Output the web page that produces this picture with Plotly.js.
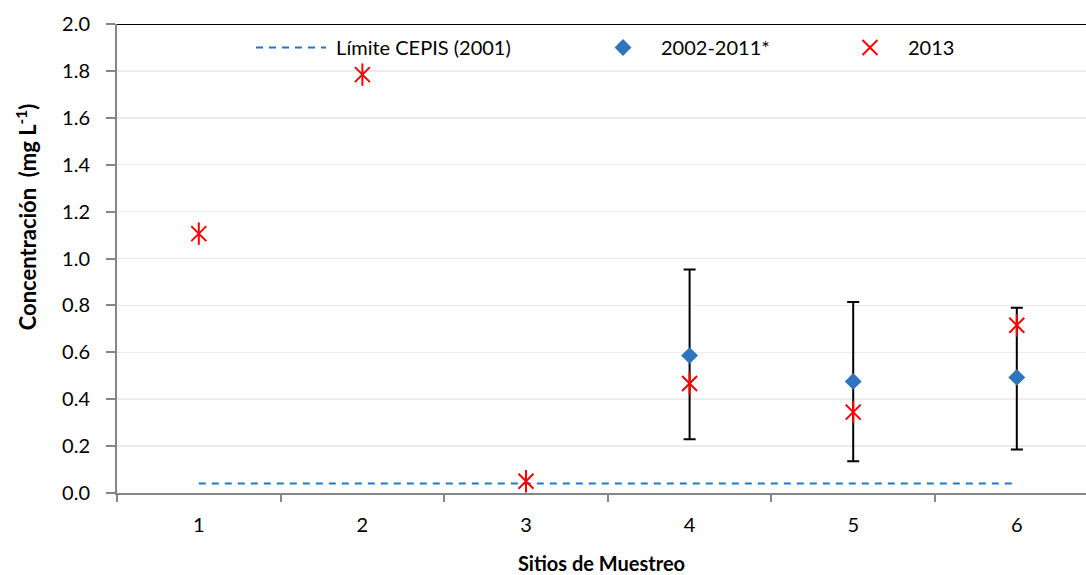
<!DOCTYPE html>
<html>
<head>
<meta charset="utf-8">
<script src="https://cdn.plot.ly/plotly-3.0.1.min.js"></script>
<style>html,body{margin:0;padding:0;background:#fff;}#chart{width:1086px;height:575px;}</style>
</head>
<body>
<div id="chart"></div>
<script>
// Sites (categories)
const sites = ["1", "2", "3", "4", "5", "6"];
// Límite CEPIS (2001)
const limitValues = [0.04, 0.04, 0.04, 0.04, 0.04, 0.04];
// 2002-2011* averages with min/max range (sites 4-6)
const avgSites = ["4", "5", "6"];
const avgValues = [0.586, 0.476, 0.493];
const avgUpper = [0.953, 0.815, 0.790];
const avgLower = [0.229, 0.135, 0.186];
// 2013 values
const values2013 = [1.106, 1.784, 0.05, 0.467, 0.345, 0.715];
// y ticks
const yTicks = [0, 0.2, 0.4, 0.6, 0.8, 1.0, 1.2, 1.4, 1.6, 1.8, 2.0];

const FONT = "Lato, 'Open Sans', sans-serif";
const W = 1086, L = 117, R = 0, PW = W - L - R;
const px = v => (v - L) / PW;

const errPlus = avgUpper.map((u, i) => u - avgValues[i]);
const errMinus = avgLower.map((l, i) => avgValues[i] - l);

const traces = [
  {
    type: "scatter", mode: "lines", name: "\u00a0Límite CEPIS (2001)",
    x: sites, y: limitValues,
    line: {color: "#1f78c8", width: 2, dash: "7px,6px"},
    legend: "legend", hoverinfo: "y"
  },
  {
    type: "scatter", mode: "markers", name: "2002-2011*",
    x: avgSites, y: avgValues,
    marker: {symbol: "diamond", size: 13, color: "#2f75bd", line: {width: 0}},
    error_y: {type: "data", symmetric: false, array: errPlus, arrayminus: errMinus,
              color: "#000000", thickness: 2, width: 6},
    legend: "legend2"
  },
  {
    type: "scatter", mode: "markers", name: "2013",
    x: sites, y: values2013,
    marker: {symbol: "x-thin-open", size: 15, color: "#ff0000", line: {color: "#ff0000", width: 2}},
    legend: "legend3", legendgroup: "y2013"
  },
  {
    type: "scatter", mode: "markers", name: "2013",
    x: sites, y: values2013, showlegend: false, legendgroup: "y2013",
    marker: {symbol: "line-ns-open", size: 16, color: "#ff0000", line: {color: "#ff0000", width: 2}},
    hoverinfo: "skip"
  }
];

const legBase = {
  orientation: "h", yanchor: "middle", y: 0.95, xanchor: "left",
  bgcolor: "rgba(0,0,0,0)", borderwidth: 0,
  font: {family: FONT, size: 20, color: "#000"}
};

const layout = {
  width: 1086, height: 575,
  margin: {l: L, r: R, t: 24, b: 82, pad: 0},
  paper_bgcolor: "#fff", plot_bgcolor: "#fff",
  font: {family: FONT, size: 20, color: "#000"},
  xaxis: {
    type: "category", categoryorder: "array", categoryarray: sites,
    range: [-0.5, 5.423],
    showline: true, linecolor: "#868686", linewidth: 2,
    ticks: "outside", tickson: "boundaries", ticklen: 7, tickwidth: 2, tickcolor: "#868686",
    showgrid: false, zeroline: false,
    tickfont: {family: FONT, size: 20, color: "#000"},
    ticklabelstandoff: 13,
    title: {text: "Sitios de Muestreo", font: {family: FONT, size: 20, color: "#000", weight: "bold"}, standoff: 24}
  },
  yaxis: {
    range: [0, 2.0], tickvals: yTicks, tickformat: ".1f",
    showline: true, linecolor: "#868686", linewidth: 2,
    ticks: "outside", ticklen: 9, tickwidth: 2, tickcolor: "#868686",
    showgrid: true, gridcolor: "#ececec", gridwidth: 1.5,
    zeroline: false,
    tickfont: {family: FONT, size: 20, color: "#000"},
    ticklabelstandoff: 12
  },
  shapes: [
    {type: "line", xref: "paper", yref: "y", x0: 0, x1: 1, y0: 2.0, y1: 2.0,
     line: {color: "#000", width: 2}, layer: "above"}
  ],
  annotations: [
    {text: "Concentración  (mg L<sup>-1</sup>)", textangle: -90,
     xref: "paper", yref: "paper", x: px(26), y: (492.7 - 217) / 469,
     xanchor: "center", yanchor: "middle", showarrow: false,
     font: {family: FONT, size: 22, color: "#000", weight: "bold"}}
  ],
  legend: Object.assign({}, legBase, {x: px(251), itemwidth: 70}),
  legend2: Object.assign({}, legBase, {x: px(585), itemwidth: 66}),
  legend3: Object.assign({}, legBase, {x: px(832), itemwidth: 66}),
  showlegend: true
};

Plotly.newPlot("chart", traces, layout, {displayModeBar: false, staticPlot: true});
</script>
</body>
</html>
